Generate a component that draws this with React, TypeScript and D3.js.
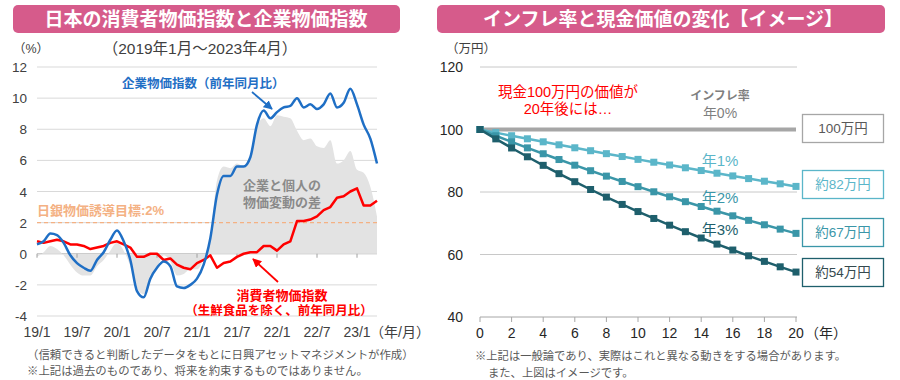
import React from "react";
import * as d3 from "d3";

// ---- Left chart data (2019/1 - 2023/4, YoY %) ----
const cgpi = [
  0.6, 0.8, 1.3, 1.2, 0.7, -0.1, -0.6, -0.9, -1.1, -0.4, 0.1, 0.9,
  1.5, 0.8, -0.4, -2.4, -2.8, -1.6, -0.9, -0.5, -0.8, -2.1, -2.2, -2.0,
  -1.6, -0.7, 1.0, 3.8, 5.0, 5.0, 5.6, 5.6, 6.2, 8.3, 9.2, 8.7,
  9.1, 9.4, 9.5, 10.0, 9.4, 9.6, 9.3, 9.6, 10.3, 9.4, 9.7, 10.6,
  9.6, 8.3, 7.4, 5.8,
];
const cpi = [
  0.8, 0.7, 0.8, 0.9, 0.8, 0.6, 0.6, 0.5, 0.3, 0.4, 0.5, 0.7,
  0.8, 0.6, 0.4, -0.2, -0.2, 0.0, 0.0, -0.4, -0.3, -0.7, -0.9, -1.0,
  -0.6, -0.4, -0.1, -0.9, -0.6, -0.5, -0.2, 0.0, 0.1, 0.1, 0.5, 0.5,
  0.2, 0.6, 0.8, 2.1, 2.1, 2.2, 2.4, 2.8, 3.0, 3.6, 3.7, 4.0,
  4.2, 3.1, 3.1, 3.4,
];
const leftXTicks = ["19/1", "19/7", "20/1", "20/7", "21/1", "21/7", "22/1", "22/7", "23/1"];
const leftYTicks = [-4, -2, 0, 2, 4, 6, 8, 10, 12];
const bojTarget = 2;

// ---- Right chart data (value of 100万円 after n years) ----
const years = [0, 1, 2, 3, 4, 5, 6, 7, 8, 9, 10, 11, 12, 13, 14, 15, 16, 17, 18, 19, 20];
const inf0 = [100, 100, 100, 100, 100, 100, 100, 100, 100, 100, 100, 100, 100, 100, 100, 100, 100, 100, 100, 100, 100];
const inf1 = [100, 99.0, 98.01, 97.03, 96.06, 95.1, 94.15, 93.21, 92.27, 91.35, 90.44, 89.53, 88.64, 87.75, 86.87, 86.01, 85.15, 84.29, 83.45, 82.62, 81.79];
const inf2 = [100, 98.0, 96.04, 94.12, 92.24, 90.39, 88.58, 86.81, 85.08, 83.37, 81.71, 80.07, 78.47, 76.9, 75.36, 73.86, 72.38, 70.93, 69.51, 68.12, 66.76];
const inf3 = [100, 97.0, 94.09, 91.27, 88.53, 85.87, 83.3, 80.8, 78.37, 76.02, 73.74, 71.53, 69.38, 67.3, 65.28, 63.33, 61.43, 59.58, 57.8, 56.06, 54.38];
const rightYTicks = [40, 60, 80, 100, 120];
const rightXTicks = [0, 2, 4, 6, 8, 10, 12, 14, 16, 18, 20];
const boxLabels = ["100万円", "約82万円", "約67万円", "約54万円"];

const FONT = "'Liberation Sans', 'Noto Sans CJK JP', sans-serif";
const PINK = "#d65b8b";
const BLUE = "#1f6fc5";
const RED = "#ff0000";
const C1 = "#5bb6c9";
const C2 = "#3a96a8";
const C3 = "#1e5f6c";

export default function App() {
  // left scales
  const xL = d3.scaleLinear().domain([0, 51]).range([37, 377]);
  const yL = d3.scaleLinear().domain([-4, 12]).range([316, 67]);
  const idx = cgpi.map((_, i) => i);
  const diff = cgpi.map((v, i) => v - cpi[i]);
  const areaGen = d3
    .area<number>()
    .x((i) => xL(i))
    .y0(yL(0))
    .y1((i) => yL(diff[i]))
    .curve(d3.curveMonotoneX);
  const blueLine = d3
    .line<number>()
    .x((i) => xL(i))
    .y((i) => yL(cgpi[i]))
    .curve(d3.curveMonotoneX);
  const redLine = d3
    .line<number>()
    .x((i) => xL(i))
    .y((i) => yL(cpi[i]));

  // right scales
  const xR = d3.scaleLinear().domain([0, 20]).range([480, 796]);
  const yR = d3.scaleLinear().domain([40, 120]).range([317, 67]);
  const rLine = (arr: number[]) =>
    d3
      .line<number>()
      .x((n) => xR(n))
      .y((n) => yR(arr[n]))(years) as string;
  const series = [
    { data: inf1, color: C1 },
    { data: inf2, color: C2 },
    { data: inf3, color: C3 },
  ];
  const boxes = [
    { y: 114, stroke: "#a6a6a6", text: "#595959" },
    { y: 170, stroke: C1, text: C1 },
    { y: 218, stroke: C2, text: C2 },
    { y: 258, stroke: C3, text: "#34494e" },
  ];

  return (
    <svg
      width={900}
      height={380}
      style={{ position: "absolute", left: 0, top: 0, background: "#fff" }}
      fontFamily={FONT}
    >
      <defs>
        <marker id="arrB" viewBox="0 0 10 10" refX="9" refY="5" markerWidth="5" markerHeight="5" orient="auto">
          <path d="M0,0 L10,5 L0,10 z" fill={BLUE} />
        </marker>
        <marker id="arrR" viewBox="0 0 10 10" refX="9" refY="5" markerWidth="5" markerHeight="5" orient="auto">
          <path d="M0,0 L10,5 L0,10 z" fill={RED} />
        </marker>
      </defs>

      {/* ===== Titles ===== */}
      <rect x={13} y={5} width={387} height={28} rx={5} fill={PINK} />
      <text x={206} y={26} textAnchor="middle" fill="#fff" fontSize={19} fontWeight="bold">
        日本の消費者物価指数と企業物価指数
      </text>
      <rect x={437} y={5} width={448} height={28} rx={5} fill={PINK} />
      <text x={663} y={26} textAnchor="middle" fill="#fff" fontSize={19} fontWeight="bold">
        インフレ率と現金価値の変化【イメージ】
      </text>

      {/* ===== Left chart ===== */}
      <text x={13} y={53} fontSize={12.5} fill="#404040">（%）</text>
      <text x={200} y={54} textAnchor="middle" fontSize={15.5} fill="#404040">（2019年1月～2023年4月）</text>

      {leftYTicks.map((t) => (
        <g key={"ly" + t}>
          <line x1={37} x2={377} y1={yL(t)} y2={yL(t)} stroke={t === 0 ? "#b0b0b0" : "#d9d9d9"} strokeWidth={1} />
          <text x={27} y={yL(t) + 5} textAnchor="end" fontSize={13.5} fill="#404040">{t}</text>
        </g>
      ))}

      <path d={areaGen(idx) as string} fill="#e3e3e3" />

      {leftXTicks.map((t, i) => (
        <g key={"lx" + t}>
          <line x1={xL(i * 6)} x2={xL(i * 6)} y1={yL(0)} y2={yL(0) + 4} stroke="#a0a0a0" />
          <text x={xL(i * 6)} y={337} textAnchor="middle" fontSize={14} fill="#404040">{t}</text>
        </g>
      ))}
      <text x={370} y={337} fontSize={14} fill="#404040">（年/月）</text>

      <line x1={37} x2={377} y1={yL(bojTarget)} y2={yL(bojTarget)} stroke="#f4b183" strokeWidth={1.2} strokeDasharray="4,3" />
      <text x={37} y={215} fontSize={13} fontWeight="bold" fill="#f4b183">日銀物価誘導目標:2%</text>

      <path d={redLine(idx) as string} fill="none" stroke={RED} strokeWidth={2.5} strokeLinejoin="round" />
      <path d={blueLine(idx) as string} fill="none" stroke={BLUE} strokeWidth={2.5} strokeLinejoin="round" />

      <text x={122} y={88} fontSize={12.5} fontWeight="bold" fill={BLUE}>企業物価指数（前年同月比）</text>
      <line x1={252} y1={92} x2={272} y2={109} stroke={BLUE} strokeWidth={1.8} markerEnd="url(#arrB)" />

      <text x={282} y={190} textAnchor="middle" fontSize={13} fontWeight="bold" fill="#8a8a8a">企業と個人の</text>
      <text x={282} y={207} textAnchor="middle" fontSize={13} fontWeight="bold" fill="#8a8a8a">物価変動の差</text>

      <line x1={278} y1={282} x2={253} y2={259} stroke={RED} strokeWidth={1.8} markerEnd="url(#arrR)" />
      <text x={282} y={300} textAnchor="middle" fontSize={13} fontWeight="bold" fill={RED}>消費者物価指数</text>
      <text x={279} y={315} textAnchor="middle" fontSize={12.5} fontWeight="bold" fill={RED}>（生鮮食品を除く、前年同月比）</text>

      <text x={27} y={359} fontSize={11.4} fill="#595959">（信頼できると判断したデータをもとに日興アセットマネジメントが作成）</text>
      <text x={27} y={375} fontSize={11.4} fill="#595959">※上記は過去のものであり、将来を約束するものではありません。</text>

      {/* ===== Right chart ===== */}
      <text x={446} y={53} fontSize={12.5} fill="#404040">（万円）</text>
      {rightYTicks.map((t) => (
        <g key={"ry" + t}>
          {t !== 100 && t !== 40 && (
            <line x1={480} x2={797} y1={yR(t)} y2={yR(t)} stroke="#c8c8c8" strokeWidth={1} />
          )}
          <text x={463} y={yR(t) + 5} textAnchor="end" fontSize={14} fill="#262626">{t}</text>
        </g>
      ))}
      <line x1={480} x2={797} y1={yR(40)} y2={yR(40)} stroke="#a6a6a6" strokeWidth={1} />
      {rightXTicks.map((t) => (
        <g key={"rx" + t}>
          <line x1={xR(t)} x2={xR(t)} y1={yR(40)} y2={yR(40) + 5} stroke="#a6a6a6" />
          <text x={xR(t)} y={338} textAnchor="middle" fontSize={14} fill="#262626">{t}</text>
        </g>
      ))}
      <text x={805} y={338} fontSize={14} fill="#262626">（年）</text>

      <path d={rLine(inf0)} fill="none" stroke="#a6a6a6" strokeWidth={4} />
      {series.map((s, k) => (
        <g key={"s" + k}>
          <path d={rLine(s.data)} fill="none" stroke={s.color} strokeWidth={2.5} />
          {years.map((n) => (
            <rect key={n} x={xR(n) - 3.5} y={yR(s.data[n]) - 3.5} width={7} height={7} fill={s.color} />
          ))}
        </g>
      ))}

      <text x={568} y={97} textAnchor="middle" fontSize={14.5} fill={RED}>現金100万円の価値が</text>
      <text x={568} y={114} textAnchor="middle" fontSize={14.5} fill={RED}>20年後には…</text>

      <text x={720} y={100} textAnchor="middle" fontSize={12} fontWeight="bold" fill="#7f7f7f">インフレ率</text>
      <text x={720} y={118} textAnchor="middle" fontSize={14} fill="#7f7f7f">年0%</text>
      <text x={720} y={166} textAnchor="middle" fontSize={15} fill={C1}>年1%</text>
      <text x={720} y={203} textAnchor="middle" fontSize={15} fill={C2}>年2%</text>
      <text x={720} y={235} textAnchor="middle" fontSize={15} fill={C3}>年3%</text>

      {boxes.map((b, k) => (
        <g key={"b" + k}>
          <rect x={802.5} y={b.y + 0.5} width={81} height={28} fill="#fff" stroke={b.stroke} strokeWidth={1.3} />
          <text x={843} y={b.y + 19} textAnchor="middle" fontSize={13.5} fill={b.text}>{boxLabels[k]}</text>
        </g>
      ))}

      <text x={475} y={360} fontSize={11.3} fill="#595959">※上記は一般論であり、実際はこれと異なる動きをする場合があります。</text>
      <text x={488} y={377} fontSize={11.3} fill="#595959">また、上図はイメージです。</text>
    </svg>
  );
}
